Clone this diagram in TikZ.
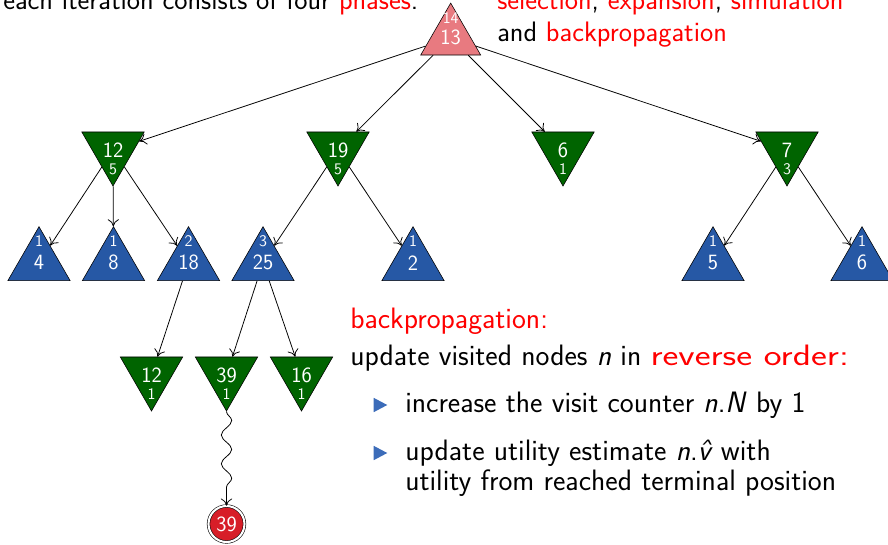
\documentclass[tikz,border=0pt]{standalone}
\usepackage{fontspec}
\usepackage{tikz}
\usetikzlibrary{shapes,arrows,arrows.meta,positioning,decorations.pathmorphing}
\renewcommand{\familydefault}{\sfdefault}

\definecolor{mctsgreen}{RGB}{0,100,0}
\definecolor{mctsblue}{RGB}{38,88,165}
\definecolor{mctsroot}{RGB}{232,122,128}
\definecolor{mctsred}{RGB}{215,30,40}
\definecolor{bulletblue}{RGB}{60,108,185}

\newcommand{\bignum}{\fontsize{15.5}{17}\selectfont}
\newcommand{\smallnum}{\fontsize{11.5}{12}\selectfont}
\newcommand{\slidetext}{\fontsize{20}{23}\selectfont}
\newcommand{\bodytext}{\fontsize{21}{24}\selectfont}

\tikzset{
  maxnode/.style={regular polygon, regular polygon sides=3, minimum size=1.8cm, inner sep=0pt, draw=black, fill=mctsblue, text=white, font=\bignum},
  minnode/.style={maxnode, shape border rotate=180, fill=mctsgreen},
  rootnode/.style={maxnode, minimum size=1.73cm, fill=mctsroot},
  countlabel/.style={inner sep=0pt, text=white, font=\smallnum},
  upcount/.style={label={[countlabel, label distance=-0.525cm]above:#1}},
  downcount/.style={label={[countlabel, label distance=-0.575cm]below:#1}},
  termnode/.style={circle, draw=black, double, double distance=1.5pt, fill=mctsred, text=white, minimum size=0.9cm, inner sep=0pt, font=\bignum},
  treeedge/.style={-{To[length=1.8mm, width=2.8mm]}, line width=0.55pt},
  slideline/.style={anchor=base west, inner sep=0pt, font=\slidetext},
  bodyline/.style={slideline, font=\bodytext},
  bulletmark/.style={isosceles triangle, isosceles triangle stretches, fill=bulletblue, minimum width=0.36cm, minimum height=0.34cm, inner sep=0pt}
}

\begin{document}
\begin{tikzpicture}[x=0.025cm, y=-0.025cm]
\useasboundingbox (0,0) rectangle (888,545);

% search tree
\node[rootnode, upcount=14] (root) at (450.7,37.7) {13};

\node[minnode, downcount=5] (A) at (113,150) {12};
\node[minnode, downcount=5] (B) at (338,150) {19};
\node[minnode, downcount=1] (C) at (563,150) {6};
\node[minnode, downcount=3] (D) at (787,150) {7};

\node[maxnode, upcount=1] (AA) at (39,262.7) {4};
\node[maxnode, upcount=1] (AB) at (113.5,262.7) {8};
\node[maxnode, upcount=2] (AC) at (188.5,262.7) {18};
\node[maxnode, upcount=3] (BA) at (263,262.7) {25};
\node[maxnode, upcount=1] (BB) at (413,262.7) {2};
\node[maxnode, upcount=1] (DA) at (713,262.7) {5};
\node[maxnode, upcount=1] (DB) at (862,262.7) {6};

\node[minnode, downcount=1] (ACA) at (151.5,375) {12};
\node[minnode, downcount=1] (BAA) at (226.5,375) {39};
\node[minnode, downcount=1] (BAB) at (301.5,375) {16};

\node[termnode] (T) at (226.5,524) {39};

\draw[treeedge] (root) -- (A);
\draw[treeedge] (root) -- (B);
\draw[treeedge] (root) -- (C);
\draw[treeedge] (root) -- (D);
\draw[treeedge] (A) -- (AA);
\draw[treeedge] (A) -- (AB);
\draw[treeedge] (A) -- (AC);
\draw[treeedge] (B) -- (BA);
\draw[treeedge] (B) -- (BB);
\draw[treeedge] (D) -- (DA);
\draw[treeedge] (D) -- (DB);
\draw[treeedge] (AC) -- (ACA);
\draw[treeedge] (BA) -- (BAA);
\draw[treeedge] (BA) -- (BAB);
% simulation to the end
\draw[treeedge, decorate, decoration={snake, amplitude=0.13cm, segment length=0.72cm, post length=0.25cm}] (BAA) -- (T);

% slide text
\node[slideline] (intro) at (3,10) {each iteration consists of four \textcolor{red}{phases}:};
\node[slideline] (phases) at (497,10) {\textcolor{red}{selection}, \textcolor{red}{expansion}, \textcolor{red}{simulation}};
\node[slideline] (phasesb) at (497,42) {and \textcolor{red}{backpropagation}};

\node[bodyline, text=red] (bphead) at (350,328) {backpropagation:};
\node[bodyline] (bpsub) at (350,365) {update visited nodes \textit{n} in \textcolor{red}{\scalebox{1.28}[1]{reverse order:}}};
\node[bulletmark] (bullA) at (378,405) {};
\node[bodyline] (itemA) at (405,412) {increase the visit counter \textit{n}.\textit{N} by 1};
\node[bulletmark] (bullB) at (378,453) {};
\node[bodyline] (itemB) at (405,460) {update utility estimate \textit{n}.\textit{\^{v}} with};
\node[bodyline] (itemBb) at (405,490) {utility from reached terminal position};
\end{tikzpicture}
\end{document}
